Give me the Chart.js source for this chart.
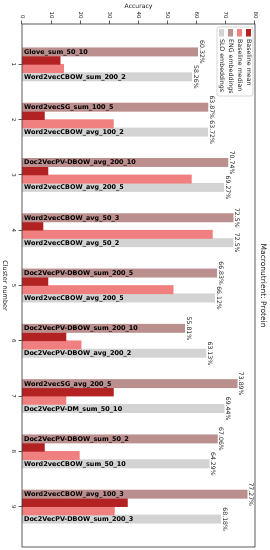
<!DOCTYPE html>
<html><head><meta charset="utf-8">
<script src="https://cdn.jsdelivr.net/npm/chart.js@4"></script>
<style>
html,body{margin:0;padding:0;background:#fff;overflow:hidden;width:270px;height:550px;}
#wrap{position:absolute;left:0;top:0;width:550px;height:270px;transform-origin:0 0;transform:translateX(270px) rotate(90deg);}
canvas{display:block;}
</style></head><body>
<div id="wrap"><canvas id="c" width="550" height="270"></canvas></div>
<script>
const clusters = ['1','2','3','4','5','6','7','8','9'];
const engAcc = [60.32, 63.87, 70.74, 72.5, 66.83, 55.81, 73.89, 67.06, 77.27];
const baselineMean = [13.1, 7.7, 8.9, 7.2, 8.9, 15.1, 31.4, 7.7, 36.2];
const baselineMedian = [14.3, 31.4, 58.2, 65.4, 51.9, 20.3, 15.1, 19.7, 31.7];
const sloAcc = [58.26, 63.72, 69.27, 72.5, 66.12, 63.13, 69.44, 64.29, 68.18];
const engNames = ['Glove_sum_50_10','Word2vecSG_sum_100_5','Doc2VecPV-DBOW_avg_200_10','Word2vecCBOW_avg_50_3','Doc2VecPV-DBOW_sum_200_5','Doc2VecPV-DBOW_sum_200_10','Word2vecSG_avg_200_5','Doc2VecPV-DBOW_sum_50_2','Word2vecCBOW_avg_100_3'];
const sloNames = ['Word2vecCBOW_sum_200_2','Word2vecCBOW_avg_100_2','Word2vecCBOW_avg_200_5','Word2vecCBOW_avg_50_2','Word2vecCBOW_avg_200_5','Doc2VecPV-DBOW_avg_200_2','Doc2VecPV-DM_sum_50_10','Word2vecCBOW_sum_50_10','Doc2VecPV-DBOW_sum_200_3'];
const yTicks = [0,10,20,30,40,50,60,70,80];
const seriesLabels = ['ENG embeddings','Baseline mean','Baseline median','SLO embeddings'];
const seriesColors = ['#bc8f8f','#b22222','#f08080','#d3d3d3'];
const legendOrder = [1,2,0,3];
const titleText = 'Macronutrient: Protein';

const FONT = "'DejaVu Sans', sans-serif";
const seriesData = [engAcc, baselineMean, baselineMedian, sloAcc];

const annot = {
  id:'annot',
  afterDatasetsDraw(chart){
    const c = chart.ctx, a = chart.chartArea;
    c.save();
    c.fillStyle = '#000';
    c.font = 'bold 6.5px ' + FONT;
    [[0, engNames],[3, sloNames]].forEach(([di,names])=>{
      chart.getDatasetMeta(di).data.forEach((bar,j)=>{
        c.save(); c.translate(bar.x, bar.base - 1.6); c.rotate(-Math.PI/2);
        c.textAlign='left'; c.textBaseline='middle'; c.fillText(names[j],0,0.3); c.restore();
      });
    });
    c.font = '6.2px ' + FONT; c.fillStyle='#222'; c.textAlign='center'; c.textBaseline='alphabetic';
    [[0, engAcc],[3, sloAcc]].forEach(([di,vals])=>{
      chart.getDatasetMeta(di).data.forEach((bar,j)=>{ c.fillText(vals[j]+'%', bar.x, bar.y - 2); });
    });
    c.strokeStyle='#333'; c.lineWidth=0.8;
    c.strokeRect(a.left,a.top,a.right-a.left,a.bottom-a.top);
    c.restore();
  },
  afterDraw(chart){
    const c = chart.ctx, a = chart.chartArea;
    c.save();
    // legend
    const lx = a.left + 3, ly = a.top + 2, lw = 69, lh = 36;
    c.beginPath();
    if (c.roundRect) c.roundRect(lx, ly, lw, lh, 2); else c.rect(lx, ly, lw, lh);
    c.fillStyle='rgba(255,255,255,0.8)'; c.fill();
    c.strokeStyle='#cccccc'; c.lineWidth=0.8; c.stroke();
    c.font = '6.3px ' + FONT; c.textAlign='left'; c.textBaseline='middle';
    legendOrder.forEach((di,k)=>{
      const y = ly + 4.5 + k*9;
      c.fillStyle = seriesColors[di];
      c.fillRect(lx + 2, y - 2.5, 7.5, 5);
      c.fillStyle = '#222';
      c.fillText(seriesLabels[di], lx + 12, y + 0.3);
    });
    // title
    c.font = '7.5px ' + FONT; c.textAlign='center'; c.textBaseline='middle'; c.fillStyle='#222';
    c.fillText(titleText, (a.left + a.right)/2, 7);
    c.restore();
  }
};

new Chart(document.getElementById('c'), {
  type:'bar',
  data:{datasets: seriesLabels.map((lab,i)=>({
    label: lab,
    data: seriesData[i].map((v,j)=>({x:j, y:v})),
    backgroundColor: seriesColors[i],
    borderWidth: 0
  }))},
  options:{
    responsive:false, animation:false, devicePixelRatio:1,
    layout:{padding:{top:15,right:3,left:0,bottom:0}},
    datasets:{bar:{barThickness:8.3, grouped:true}},
    plugins:{legend:{display:false}, tooltip:{enabled:false}, title:{display:false}},
    scales:{
      x:{type:'linear', min:-0.73, max:8.73, offset:false,
         afterBuildTicks: s=>{ s.ticks = clusters.map((c,i)=>({value:i})); },
         afterFit: s=>{ s.height = 22; },
         ticks:{callback:(v)=>clusters[v], font:{family:FONT,size:5.5}, color:'#222', padding:1.5, maxRotation:0, minRotation:0, autoSkip:false},
         grid:{drawOnChartArea:false, offset:false, tickLength:3.5, color:'#333', lineWidth:0.8},
         border:{display:false},
         title:{display:true, text:'Cluster number', font:{family:FONT,size:6.5}, color:'#222', padding:{top:0,bottom:0.4}}
      },
      y:{min:0, max:80,
         afterBuildTicks: s=>{ s.ticks = yTicks.map(v=>({value:v})); },
         afterFit: s=>{ s.width = 24; },
         ticks:{font:{family:FONT,size:5.5}, color:'#222', padding:2},
         grid:{drawOnChartArea:false, tickLength:3.5, color:'#333', lineWidth:0.8},
         border:{display:false},
         title:{display:true, text:'Accuracy', font:{family:FONT,size:6.1}, color:'#222', padding:{top:2.3,bottom:0}}
      }
    }
  },
  plugins:[annot]
});
</script></body></html>
